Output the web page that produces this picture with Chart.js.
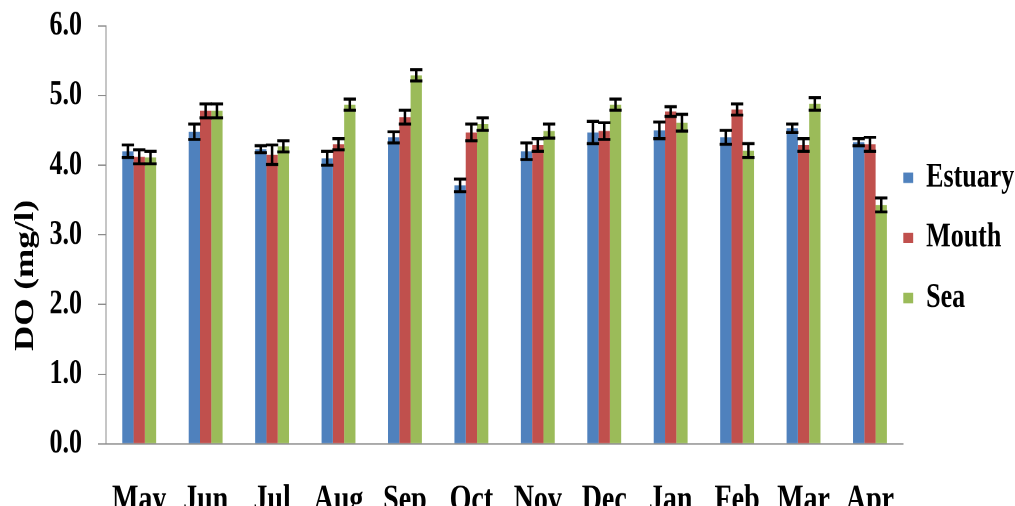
<!DOCTYPE html>
<html>
<head>
<meta charset="utf-8">
<script src="https://cdn.jsdelivr.net/npm/chart.js@4.4.1/dist/chart.umd.min.js"></script>
<style>
  html, body { margin: 0; padding: 0; background: #ffffff; }
  body { width: 1015px; height: 506px; overflow: hidden; }
  #wrap { position: relative; width: 1015px; height: 429px; transform: scaleY(1.3); transform-origin: 0 0; }
</style>
</head>
<body>
<div id="wrap"><canvas id="c"></canvas></div>
<script>
// ---- data ----
const months = ['May', 'Jun', 'Jul', 'Aug', 'Sep', 'Oct', 'Nov', 'Dec', 'Jan', 'Feb', 'Mar', 'Apr'];
const seriesNames = ['Estuary', 'Mouth', 'Sea'];
const estuary = [4.20, 4.48, 4.23, 4.10, 4.40, 3.71, 4.20, 4.47, 4.50, 4.40, 4.53, 4.33];
const mouth   = [4.12, 4.78, 4.15, 4.30, 4.69, 4.47, 4.29, 4.49, 4.77, 4.80, 4.29, 4.30];
const sea     = [4.11, 4.78, 4.27, 4.87, 5.29, 4.59, 4.49, 4.87, 4.61, 4.21, 4.88, 3.43];
const estuaryErr = [0.09, 0.11, 0.05, 0.10, 0.08, 0.09, 0.12, 0.16, 0.12, 0.10, 0.06, 0.05];
const mouthErr   = [0.10, 0.10, 0.14, 0.08, 0.10, 0.12, 0.09, 0.12, 0.07, 0.08, 0.09, 0.10];
const seaErr     = [0.09, 0.10, 0.08, 0.08, 0.08, 0.09, 0.10, 0.08, 0.12, 0.10, 0.09, 0.10];
const yTicks = [0, 1, 2, 3, 4, 5, 6];
const yTitle = 'DO (mg/l)';

const FAMILY = '"Liberation Serif", "Times New Roman", serif';
Chart.defaults.font.family = FAMILY;
Chart.defaults.font.weight = 'bold';
Chart.defaults.color = '#000000';

const errorBars = {
  id: 'errorBars',
  afterDatasetsDraw(chart) {
    const ctx = chart.ctx;
    const ys = chart.scales.y;
    chart.data.datasets.forEach((ds, i) => {
      const meta = chart.getDatasetMeta(i);
      meta.data.forEach((bar, j) => {
        const v = ds.data[j], e = ds.errors[j];
        const top = ys.getPixelForValue(v + e);
        const bot = ys.getPixelForValue(v - e);
        const x = bar.x;
        const hw = bar.width / 2 + 0.5;
        ctx.save();
        ctx.strokeStyle = '#000000';
        ctx.lineWidth = 2.5;
        ctx.beginPath();
        ctx.moveTo(x, top); ctx.lineTo(x, bot);
        ctx.stroke();
        ctx.lineWidth = 2.3;
        ctx.beginPath();
        ctx.moveTo(x - hw, top); ctx.lineTo(x + hw, top);
        ctx.moveTo(x - hw, bot); ctx.lineTo(x + hw, bot);
        ctx.stroke();
        ctx.restore();
      });
    });
  }
};

const yTitlePlugin = {
  id: 'yTitlePlugin',
  afterDraw(chart) {
    const ctx = chart.ctx;
    ctx.save();
    ctx.translate(32.9, 211.9);
    ctx.rotate(-Math.PI / 2);
    ctx.font = 'bold 27px ' + FAMILY;
    ctx.fillStyle = '#000000';
    ctx.textAlign = 'center';
    ctx.textBaseline = 'alphabetic';
    ctx.fillText(yTitle, 0, 0);
    ctx.restore();
  }
};

const colors = ['#4F81BD', '#C0504D', '#9BBB59'];
const values = [estuary, mouth, sea];
const errs = [estuaryErr, mouthErr, seaErr];

new Chart(document.getElementById('c'), {
  type: 'bar',
  data: {
    labels: months,
    datasets: seriesNames.map((n, i) => ({
      label: n,
      data: values[i],
      errors: errs[i],
      backgroundColor: colors[i],
      borderWidth: 0,
      categoryPercentage: 0.51,
      barPercentage: 1.0
    }))
  },
  options: {
    responsive: true,
    maintainAspectRatio: false,
    animation: false,
    devicePixelRatio: 2,
    layout: { padding: { left: 33.5, right: -9.3, top: 19.8, bottom: 0 } },
    plugins: {
      legend: {
        position: 'right',
        align: 'start',
        title: { display: true, text: '', font: { size: 10, lineHeight: 1 }, padding: { top: 94, bottom: 0 } },
        labels: {
          boxWidth: 10,
          boxHeight: 8,
          padding: 0,
          font: { size: 26, weight: 'bold', lineHeight: 1.777 },
          color: '#000000',
          generateLabels(chart) {
            const items = Chart.defaults.plugins.legend.labels.generateLabels(chart);
            return items.map(it => Object.assign({}, it, { text: [it.text], lineWidth: 0 }));
          }
        }
      },
      tooltip: { enabled: false }
    },
    scales: {
      x: {
        offset: true,
        grid: { display: false, drawTicks: false },
        border: { display: true, color: '#8C8C8C', width: 1 },
        ticks: { font: { size: 28, weight: 'bold' }, padding: 27, color: '#000000', maxRotation: 0, autoSkip: false }
      },
      y: {
        min: 0,
        max: 6,
        afterBuildTicks(scale) { scale.ticks = yTicks.map(v => ({ value: v })); },
        grid: { drawOnChartArea: false, drawTicks: true, tickLength: 8, color: '#8C8C8C' },
        border: { display: true, color: '#8C8C8C', width: 1 },
        ticks: {
          font: { size: 26, weight: 'bold', lineHeight: 0.3 },
          padding: 16,
          color: '#000000',
          callback: v => Number(v).toFixed(1)
        }
      }
    }
  },
  plugins: [errorBars, yTitlePlugin]
});
</script>
</body>
</html>
